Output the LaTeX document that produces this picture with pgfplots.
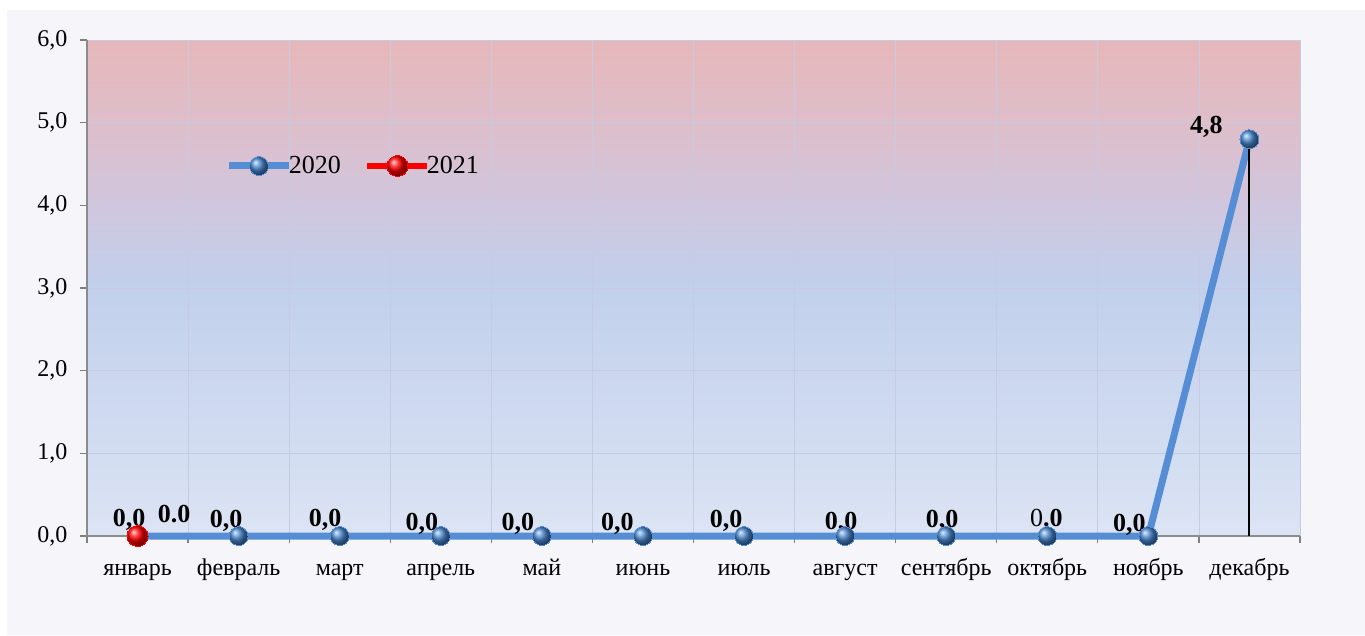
\documentclass[border=0pt]{standalone}
\usepackage{fontspec}
\setmainfont{Liberation Serif}
\usepackage{pgfplots}
\pgfplotsset{compat=1.18}
\definecolor{bgc}{RGB}{245,245,250}
\definecolor{gridc}{RGB}{200,202,228}
\definecolor{c0}{RGB}{220,228,244}
\definecolor{c3}{RGB}{193,208,236}
\definecolor{c4}{RGB}{208,198,222}
\definecolor{c5}{RGB}{222,190,202}
\definecolor{c6}{RGB}{230,184,186}
\definecolor{line20}{RGB}{85,142,213}
\definecolor{ball20}{RGB}{72,134,206}
\pgfdeclareverticalshading{bgshade}{100bp}{color(0bp)=(c0); color(25bp)=(c0); color(50bp)=(c3); color(58.3bp)=(c4); color(66.7bp)=(c5); color(75bp)=(c6); color(100bp)=(c6)}
\begin{document}
\begin{tikzpicture}[x=1pt,y=1pt]
\fill[white] (-87,-99) rectangle (1278,536);
\fill[bgc] (-80,-99) rectangle (1278,526);
\begin{axis}[
  at={(0,0)}, anchor=south west,
  scale only axis, width=1213pt, height=496pt,
  xmin=-0.5, xmax=11.5, ymin=0, ymax=6,
  axis background/.style={shading=bgshade},
  xtick={0,...,11},
  xticklabels={январь,февраль,март,апрель,май,июнь,июль,август,сентябрь,октябрь,ноябрь,декабрь},
  minor xtick={-0.5,0.5,...,11.5},
  xminorgrids, ymajorgrids,
  ytick={0,1,...,6},
  grid style={gridc, line width=0.8pt},
  minor grid style={gridc, line width=0.8pt},
  major x tick style={draw=none},
  minor x tick style={draw=gray, line width=1.2pt},
  ytick style={draw=gray, line width=1.2pt},
  tick align=outside,
  major tick length=7pt, minor tick length=7pt,
  axis lines*=left,
  axis line style={draw=gray!90, line width=1.5pt},
  /pgf/number format/assume math mode=true,
  yticklabel style={/pgf/number format/fixed, /pgf/number format/fixed zerofill, /pgf/number format/precision=1, /pgf/number format/use comma, /tikz/xshift=-9pt},
  ticklabel style={font=\fontsize{24}{26}\selectfont},
  xticklabel style={anchor=base, yshift=-32pt},
  clip=false,
  legend style={at={(0.114,0.746)}, anchor=west, draw=none, fill=none,
    font=\fontsize{26}{30}\selectfont, legend columns=2,
    nodes={inner xsep=0.5pt},
    /tikz/every odd column/.append style={column sep=-4pt},
    /tikz/every even column/.append style={column sep=23pt},
    legend cell align=left, inner sep=0pt},
  legend image code/.code={\draw[mark repeat=2,mark phase=2,#1] plot coordinates {(0pt,0pt) (30pt,0pt) (60pt,0pt)};},
]
\addplot[line20, line width=7pt, mark=ball, mark size=9.5pt, mark options={ball color=ball20, line width=0pt}]
  coordinates {(0,0) (1,0) (2,0) (3,0) (4,0) (5,0) (6,0) (7,0) (8,0) (9,0) (10,0) (11,4.8)};
\addlegendentry{2020}
\addplot[red, line width=6pt, mark=ball, mark size=10.5pt, mark options={ball color=red, line width=0pt}]
  coordinates {(0,0)};
\addlegendentry{2021}
\addplot[black, line width=2pt, forget plot] coordinates {(11,0) (11,4.8)};
\begin{scope}[every node/.style={font=\bfseries\fontsize{26}{28}\selectfont, anchor=base, inner sep=0pt}]
\node at (axis cs:0,0) [xshift=-8.5pt, yshift=10pt] {0,0};
\node at (axis cs:0,0) [xshift=36.5pt, yshift=14pt] {0.0};
\node at (axis cs:1,0) [xshift=-12.6pt, yshift=9pt] {0,0};
\node at (axis cs:2,0) [xshift=-14.7pt, yshift=10pt] {0,0};
\node at (axis cs:3,0) [xshift=-19pt, yshift=6pt] {0,0};
\node at (axis cs:4,0) [xshift=-24pt, yshift=6pt] {0,0};
\node at (axis cs:5,0) [xshift=-25.5pt, yshift=6pt] {0,0};
\node at (axis cs:6,0) [xshift=-18pt, yshift=9pt] {0,0};
\node at (axis cs:7,0) [xshift=-4pt, yshift=7pt] {0,0};
\node at (axis cs:8,0) [xshift=-4pt, yshift=9pt] {0,0};
\node at (axis cs:9,0) [xshift=-1pt, yshift=10pt] {\mdseries 0\bfseries.0};
\node at (axis cs:10,0) [xshift=-19pt, yshift=5pt] {0,0};
\node at (axis cs:11,4.8) [xshift=-43pt, yshift=6pt] {4,8};
\end{scope}
\end{axis}
\pgfresetboundingbox
\path[use as bounding box] (-87,-99) rectangle (1278,536);
\end{tikzpicture}
\end{document}
